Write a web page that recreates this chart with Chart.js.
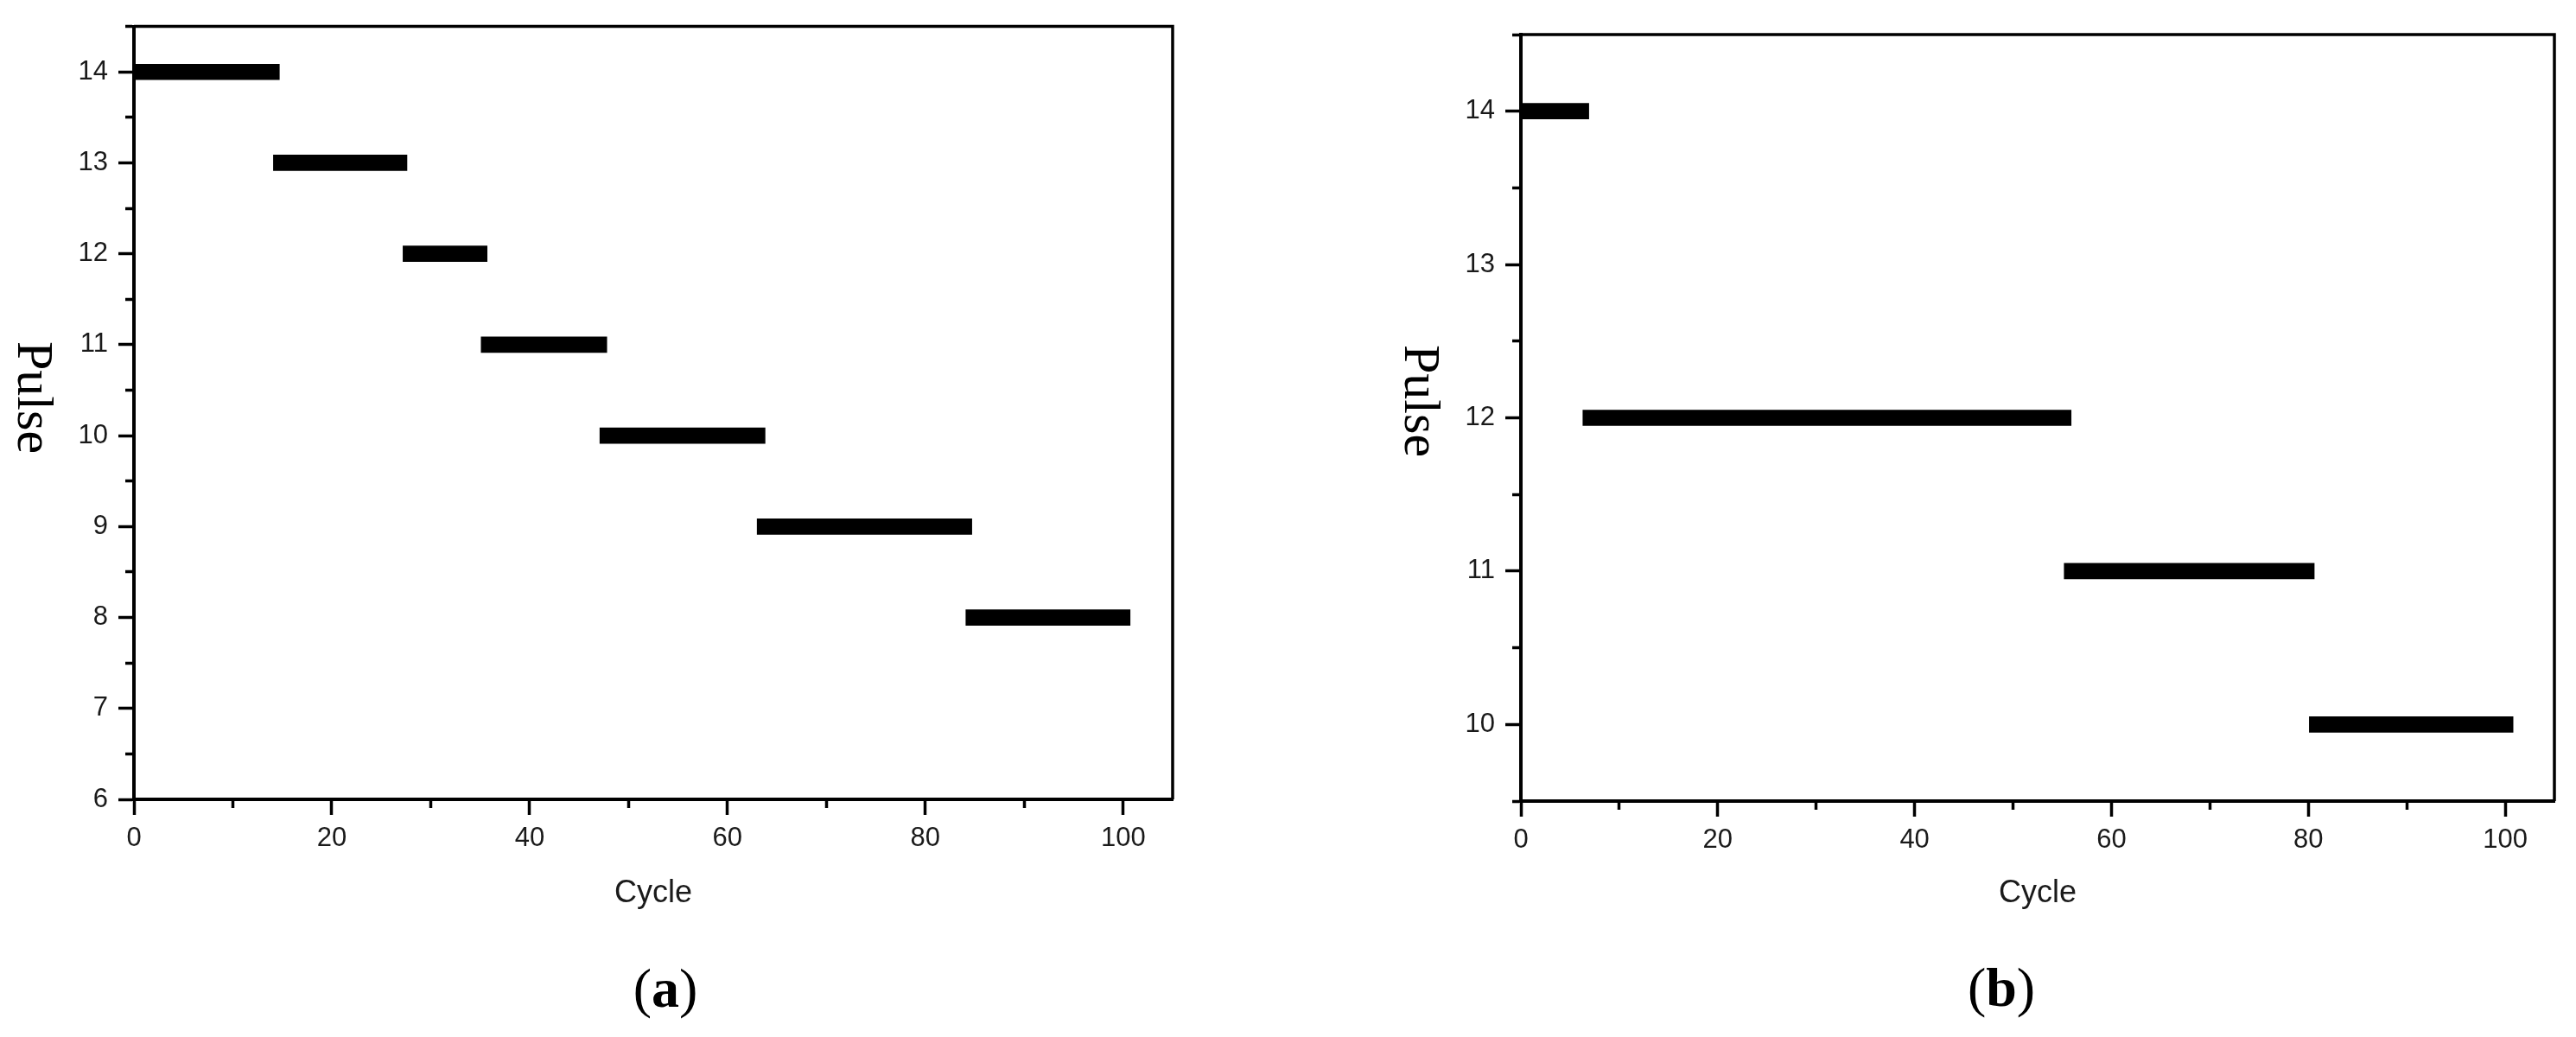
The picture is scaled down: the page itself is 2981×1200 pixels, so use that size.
<!DOCTYPE html>
<html>
<head>
<meta charset="utf-8">
<script src="https://cdn.jsdelivr.net/npm/chart.js@4.4.1/dist/chart.umd.min.js"></script>
<style>
  html, body { margin: 0; padding: 0; background: #fff; }
  #contenedor { position: relative; width: 2981px; height: 1200px; }
  canvas { position: absolute; top: 0; }
  #graficoA { left: 0; }
  #graficoB { left: 1450px; }
</style>
</head>
<body>
<div id="contenedor">
  <canvas id="graficoA" width="1450" height="1200"></canvas>
  <canvas id="graficoB" width="1531" height="1200"></canvas>
</div>
<script>
// Panel (a): pulso y tramo de ciclos
const pulsosA = [14, 13, 12, 11, 10, 9, 8];
const inicioA = [0, 14.1, 27.2, 35.1, 47.1, 63.0, 84.1];
const finA = [14.7, 27.6, 35.7, 47.8, 63.8, 84.7, 100.7];

// Panel (b)
const pulsosB = [14, 12, 11, 10];
const inicioB = [0, 6.3, 55.2, 80.1];
const finB = [6.9, 55.9, 80.6, 100.8];

// Etiquetas de los ejes
const etiquetasX = [0, 20, 40, 60, 80, 100];
const etiquetasYA = [6, 7, 8, 9, 10, 11, 12, 13, 14];
const etiquetasYB = [10, 11, 12, 13, 14];

// Marco, título vertical "Pulse" y letra del panel
const rotulos = {
  id: "rotulos",
  afterDraw(chart, args, opts) {
    const { ctx, chartArea } = chart;
    ctx.save();
    ctx.strokeStyle = "#000";
    ctx.lineWidth = 3.5;
    ctx.beginPath();
    ctx.moveTo(chartArea.left, chartArea.top);
    ctx.lineTo(chartArea.right, chartArea.top);
    ctx.lineTo(chartArea.right, chartArea.bottom);
    ctx.stroke();

    ctx.fillStyle = "#000";
    ctx.save();
    ctx.translate(opts.pulsoX, opts.pulsoY);
    ctx.rotate(Math.PI / 2);
    ctx.font = "60px 'Liberation Serif', 'Times New Roman', serif";
    ctx.textAlign = "center";
    ctx.textBaseline = "middle";
    ctx.fillText("Pulse", 0, 0);
    ctx.restore();

    const partes = [["(", "normal"], [opts.letra, "bold"], [")", "normal"]];
    let ancho = 0;
    partes.forEach((p) => {
      ctx.font = p[1] + " 64px 'Liberation Serif', 'Times New Roman', serif";
      ancho += ctx.measureText(p[0]).width;
    });
    let x = opts.letraX - ancho / 2;
    ctx.textAlign = "left";
    ctx.textBaseline = "middle";
    partes.forEach((p) => {
      ctx.font = p[1] + " 64px 'Liberation Serif', 'Times New Roman', serif";
      ctx.fillText(p[0], x, opts.letraY);
      x += ctx.measureText(p[0]).width;
    });
    ctx.restore();
  },
};

// Función para crear cada panel
function crearGrafico(id, pulsos, inicios, fines, yMin, etiquetasY, cfg) {
  const ctx = document.getElementById(id).getContext("2d");
  return new Chart(ctx, {
    type: "bar",
    data: {
      datasets: [
        {
          data: pulsos.map((p, i) => ({ y: p, x: [inicios[i], fines[i]] })),
          backgroundColor: "#000",
          borderWidth: 0,
          barThickness: 18,
        },
      ],
    },
    options: {
      indexAxis: "y",
      responsive: false,
      animation: false,
      events: [],
      layout: { padding: { top: cfg.arriba, right: cfg.derecha, left: 0, bottom: 0 } },
      plugins: {
        legend: { display: false },
        tooltip: { enabled: false },
        rotulos: cfg.rotulos,
      },
      scales: {
        x: {
          type: "linear",
          min: 0,
          max: 105,
          border: { color: "#000", width: 4 },
          grid: {
            drawOnChartArea: false,
            tickLength: 18,
            tickWidth: 3.5,
            tickColor: "#000",
            tickBorderDash: (c) => (c.tick && c.tick.value % 20 !== 0 ? [8, 40] : []),
          },
          ticks: {
            stepSize: 10,
            includeBounds: false,
            autoSkip: false,
            maxRotation: 0,
            padding: 9,
            color: "#1a1a1a",
            font: { family: "'Liberation Sans', Arial, sans-serif", size: 31 },
            callback: (v) => (etiquetasX.includes(v) ? v : ""),
          },
          title: {
            display: true,
            text: "Cycle",
            color: "#1a1a1a",
            font: { family: "'Liberation Sans', Arial, sans-serif", size: 36 },
            padding: { top: 0, bottom: 144 },
          },
          afterFit: (s) => {
            s.height = cfg.altoX;
          },
        },
        y: {
          type: "linear",
          min: yMin,
          max: 14.5,
          offset: false,
          border: { color: "#000", width: 4 },
          grid: {
            offset: false,
            drawOnChartArea: false,
            tickLength: 18,
            tickWidth: 3.5,
            tickColor: "#000",
            tickBorderDash: (c) => (c.tick && !Number.isInteger(c.tick.value) ? [8, 8] : []),
            tickBorderDashOffset: (c) => (c.tick && !Number.isInteger(c.tick.value) ? 8 : 0),
          },
          ticks: {
            stepSize: 0.5,
            autoSkip: false,
            padding: 12,
            color: "#1a1a1a",
            font: { family: "'Liberation Sans', Arial, sans-serif", size: 31 },
            callback: (v) => (etiquetasY.includes(v) ? v : ""),
          },
          afterFit: (s) => {
            s.width = cfg.anchoY;
          },
        },
      },
    },
    plugins: [rotulos],
  });
}

window.onload = function () {
  crearGrafico("graficoA", pulsosA, inicioA, finA, 6, etiquetasYA, {
    arriba: 28,
    derecha: 93,
    anchoY: 155,
    altoX: 275,
    rotulos: { pulsoX: 37, pulsoY: 460, letra: "a", letraX: 770, letraY: 1148 },
  });
  crearGrafico("graficoB", pulsosB, inicioB, finB, 9.5, etiquetasYB, {
    arriba: 40,
    derecha: 25,
    anchoY: 310,
    altoX: 273,
    rotulos: { pulsoX: 192, pulsoY: 464, letra: "b", letraX: 866, letraY: 1147 },
  });
};
</script>
</body>
</html>
